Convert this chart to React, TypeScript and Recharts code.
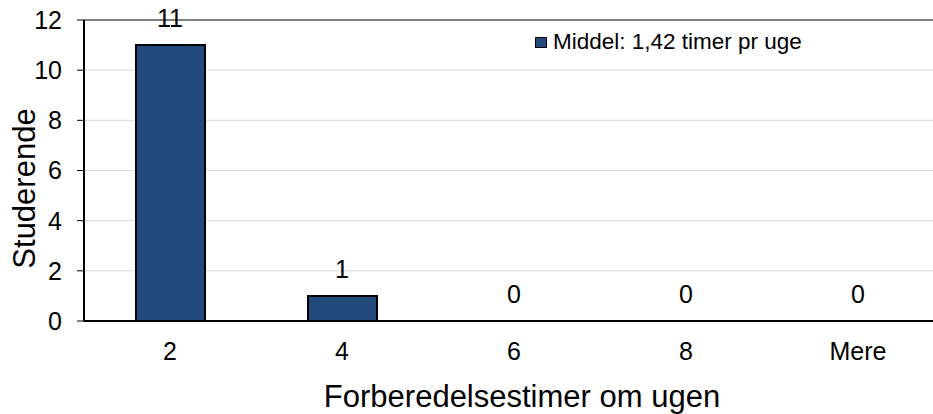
// Søjlediagram: forberedelsestimer pr. uge
import React from "react";
import {
  ComposedChart,
  Bar,
  Line,
  XAxis,
  YAxis,
  CartesianGrid,
  ReferenceLine,
  LabelList,
  Label,
} from "recharts";

const categories = ["2", "4", "6", "8", "Mere"];
const students = [11, 1, 0, 0, 0];
const yTicks = [0, 2, 4, 6, 8, 10, 12];
const legendText = "Middel: 1,42 timer pr uge";

const data = categories.map((name, i) => ({ name, value: students[i] }));

const FONT = "'Liberation Sans', Arial, Helvetica, sans-serif";
const BAR_FILL = "#234A7C";

const YTitle = (props: any) => {
  const vb = props.viewBox || {};
  const cx = 35;
  const cy = vb.y + vb.height / 2 + 18;
  return (
    <text
      x={cx}
      y={cy}
      transform={`rotate(-90, ${cx}, ${cy})`}
      textAnchor="middle"
      fontFamily={FONT}
      fontSize={31}
      fill="#000"
    >
      Studerende
    </text>
  );
};

const XTitle = (props: any) => {
  const vb = props.viewBox || {};
  return (
    <text
      x={vb.x + vb.width / 2 + 8}
      y={407}
      textAnchor="middle"
      fontFamily={FONT}
      fontSize={31}
      fill="#000"
    >
      Forberedelsestimer om ugen
    </text>
  );
};

export default function App() {
  return (
    <div
      style={{
        position: "absolute",
        left: 0,
        top: 0,
        width: 933,
        height: 414,
        overflow: "hidden",
        background: "#fff",
      }}
    >
      <ComposedChart
        width={944}
        height={414}
        data={data}
        margin={{ top: 20, right: 0, left: 0, bottom: 0 }}
        barCategoryGap={0}
      >
        <CartesianGrid vertical={false} stroke="#d9d9d9" strokeWidth={1} />
        <ReferenceLine y={12} stroke="#808080" strokeWidth={2} />
        <XAxis
          dataKey="name"
          height={93}
          tickLine={false}
          tickSize={0}
          tickMargin={21}
          axisLine={{ stroke: "#000", strokeWidth: 2 }}
          tick={{ fontSize: 25, fontFamily: FONT, fill: "#000" }}
        >
          <Label content={<XTitle />} />
        </XAxis>
        <YAxis
          width={84}
          domain={[0, 12]}
          ticks={yTicks}
          interval={0}
          tickSize={7}
          tickMargin={15}
          tickLine={{ stroke: "#000" }}
          axisLine={{ stroke: "#000", strokeWidth: 2 }}
          tick={{ fontSize: 25, fontFamily: FONT, fill: "#000" }}
        >
          <Label content={<YTitle />} />
        </YAxis>
        <Bar
          dataKey="value"
          fill={BAR_FILL}
          stroke="#000"
          strokeWidth={2}
          barSize={69}
          isAnimationActive={false}
        />
        <Line
          dataKey="value"
          stroke="none"
          dot={false}
          activeDot={false}
          isAnimationActive={false}
        >
          <LabelList
            dataKey="value"
            position="top"
            offset={18}
            style={{ fontSize: 25, fontFamily: FONT, fill: "#000" }}
          />
        </Line>
      </ComposedChart>
      <div
        style={{
          position: "absolute",
          left: 535,
          top: 29,
          display: "flex",
          alignItems: "center",
          fontFamily: FONT,
          fontSize: 22.5,
          lineHeight: "26px",
          color: "#000",
          whiteSpace: "nowrap",
        }}
      >
        <span
          style={{
            display: "inline-block",
            width: 10,
            height: 9,
            background: BAR_FILL,
            border: "1px solid #000",
            marginRight: 6,
          }}
        />
        {legendText}
      </div>
    </div>
  );
}
